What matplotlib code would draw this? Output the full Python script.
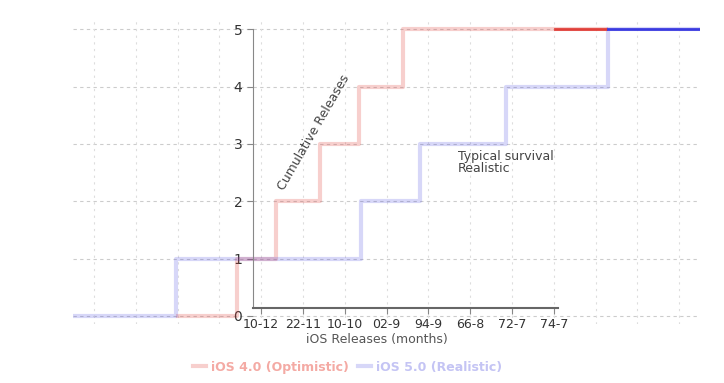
import matplotlib
matplotlib.use("Agg")
import matplotlib.pyplot as plt

# Data (months on x, cumulative releases on y)
opt_months = [5, 7.85, 9.7, 11.8, 13.7, 15.8, 23.05, 25.5]
opt_count = [0, 1, 2, 3, 4, 5, 5, 5]
real_months = [0, 4.95, 13.8, 16.6, 20.7, 25.6, 30]
real_count = [0, 1, 2, 3, 4, 5, 5]
xtick_pos = [9, 11, 13, 15, 17, 19, 21, 23]
xtick_labels = ["10-12", "22-11", "10-10", "02-9", "94-9", "66-8", "72-7", "74-7"]
ytick_pos = [0, 1, 2, 3, 4, 5]

RED = "#e0403a"
BLUE = "#3a3ae0"

fig = plt.figure(figsize=(7.24, 3.83), dpi=100)
ax = fig.add_axes([73 / 724, 59 / 383, 627 / 724, 304 / 383])
ax.set_xlim(0, 30)
ax.set_ylim(-0.14, 5.16)

# grid
for y in ytick_pos:
    ax.axhline(y, color="#cccccc", lw=0.8, ls=(0, (3, 3)), zorder=0)
for x in range(1, 30, 2):
    ax.axvline(x, color="#dddddd", lw=0.8, ls=(0, (2, 4)), zorder=0)

# faint full steps
ax.step(opt_months, opt_count, where="post", color=RED, alpha=0.25, lw=3,
        label="iOS 4.0 (Optimistic)")
ax.step(real_months, real_count, where="post", color=BLUE, alpha=0.2, lw=3,
        label="iOS 5.0 (Realistic)")
# solid final segments
ax.plot(opt_months[-2:], opt_count[-2:], color=RED, lw=2)
ax.plot(real_months[-2:], real_count[-2:], color=BLUE, lw=2)

for s in ["top", "right"]:
    ax.spines[s].set_visible(False)
ax.spines["left"].set_position(("data", 8.6))
ax.spines["left"].set_bounds(0.14, 5)
ax.spines["left"].set_color("#888888")
ax.spines["bottom"].set_position(("data", 0.14))
ax.spines["bottom"].set_bounds(8.6, 23.2)
ax.spines["bottom"].set_color("#666666")
ax.spines["bottom"].set_linewidth(1.5)

ax.set_yticks(ytick_pos)
ax.set_yticklabels([str(v) for v in ytick_pos], fontsize=10, color="#333333")
ax.set_xticks(xtick_pos)
ax.set_xticklabels(xtick_labels, fontsize=9, color="#333333")
ax.tick_params(length=4, color="#888888")

ax.text(11.5, 3.2, "Cumulative Releases", rotation=60, fontsize=9,
        color="#444444", ha="center", va="center")
ax.text(18.4, 2.67, "Typical survival\nRealistic", fontsize=9,
        color="#444444", ha="left", va="center", linespacing=0.9)

fig.text(0.52, 0.105, "iOS Releases (months)", fontsize=9, color="#555555",
         ha="center")
leg = fig.legend(loc="lower center", bbox_to_anchor=(0.48, -0.005), ncol=2,
                 frameon=False, fontsize=9, handlelength=1.0,
                 columnspacing=0.8, handletextpad=0.4)
for txt, c in zip(leg.get_texts(), ["#f4aaa4", "#c4c4f4"]):
    txt.set_color(c)
    txt.set_fontweight("bold")

fig.savefig("out.png", dpi=100)
